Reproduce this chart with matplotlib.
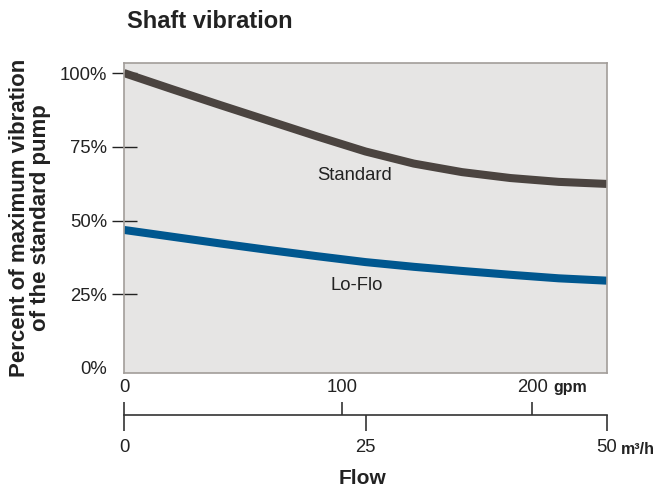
import matplotlib
matplotlib.use('Agg')
import matplotlib.pyplot as plt

# flow in m3/h, values in percent of max vibration of standard pump
flow = [0, 5, 10, 15, 20, 25, 30, 35, 40, 45, 50]
standard = [100, 94.5, 89.1, 83.8, 78.5, 73.4, 69.3, 66.4, 64.4, 63.1, 62.4]
lo_flo = [46.8, 44.5, 42.2, 40.0, 37.9, 35.9, 34.3, 32.9, 31.6, 30.4, 29.6]

y_ticks = [0, 25, 50, 75, 100]
y_labels = ['0%', '25%', '50%', '75%', '100%']
m3h_ticks = [0, 25, 50]
m3h_labels = ['0', '25', '50']
# gpm ticks placed where the original drawing puts them on the m3/h scale
gpm_pos = [0, 22.6, 42.25]
gpm_labels = ['0', '100', '200']

plt.rcParams['font.family'] = ['Liberation Sans', 'DejaVu Sans']

W, H = 656, 487
fig = plt.figure(figsize=(W / 100, H / 100), dpi=100)

left, right, bottom, top = 124, 607, 373, 63
ax = fig.add_axes([left / W, 1 - bottom / H, (right - left) / W, (bottom - top) / H])
ax.set_facecolor('#e6e5e4')
for s in ax.spines.values():
    s.set_color('#a29d99')
    s.set_linewidth(1.2)

ax.plot(flow, standard, color='#4b4440', lw=5.8, solid_capstyle='butt')
ax.plot(flow, lo_flo, color='#00578f', lw=5.8, solid_capstyle='butt')
ax.text(23.85, 65.4, 'Standard', fontsize=13.3, color='#222222', ha='center', va='center')
ax.text(24.05, 27.8, 'Lo-Flo', fontsize=13.3, color='#222222', ha='center', va='center')

ax.set_xlim(0, 50)
ax.set_ylim(-1.7, 103.4)
ax.set_xticks([])
ax.set_yticks(y_ticks)
ax.set_yticklabels(y_labels, fontsize=13.3, color='#222222')
ax.tick_params(axis='y', direction='inout', length=18, width=1, color='#222222', pad=3)
ax.yaxis.get_major_ticks()[0].tick1line.set_visible(False)

# double flow scale below the plot
line_y = 415
ax2 = fig.add_axes([left / W, 1 - line_y / H, (right - left) / W, 0])
ax2.set_xlim(0, 50)
ax2.patch.set_visible(False)
for k in ['top', 'left', 'right']:
    ax2.spines[k].set_visible(False)
ax2.spines['bottom'].set_color('#333333')
ax2.spines['bottom'].set_linewidth(1.2)
ax2.set_yticks([])
ax2.set_xticks(m3h_ticks)
ax2.set_xticklabels(m3h_labels, fontsize=13.3, color='#222222')
ax2.tick_params(axis='x', bottom=True, top=False, direction='out', length=11.5, width=1.2,
                color='#333333', pad=6)
ax3 = ax2.secondary_xaxis('top')
ax3.set_xticks(gpm_pos)
ax3.set_xticklabels(gpm_labels, fontsize=13.3, color='#222222')
ax3.tick_params(axis='x', direction='out', length=9.5, width=1.2, color='#333333', pad=4)
ax3.spines['top'].set_visible(False)

fig.text(553 / W, 1 - 392 / H, 'gpm', fontsize=11.5, fontweight='bold', color='#222222', va='baseline')
fig.text(621 / W, 1 - 454 / H, 'm³/h', fontsize=11.5, fontweight='bold', color='#222222',
         va='baseline')

fig.text(127 / W, 1 - 21 / H, 'Shaft vibration', fontsize=17, fontweight='bold', color='#222222',
         va='center', ha='left')
fig.text(30 / W, 1 - 218 / H, 'Percent of maximum vibration\nof the standard pump', fontsize=16,
         fontweight='bold', color='#222222', rotation=90, ha='center', va='center',
         multialignment='center', linespacing=1.0)
fig.text(362 / W, 1 - 478 / H, 'Flow', fontsize=15, fontweight='bold', color='#222222',
         ha='center', va='center')

fig.savefig('out.png', dpi=100)
